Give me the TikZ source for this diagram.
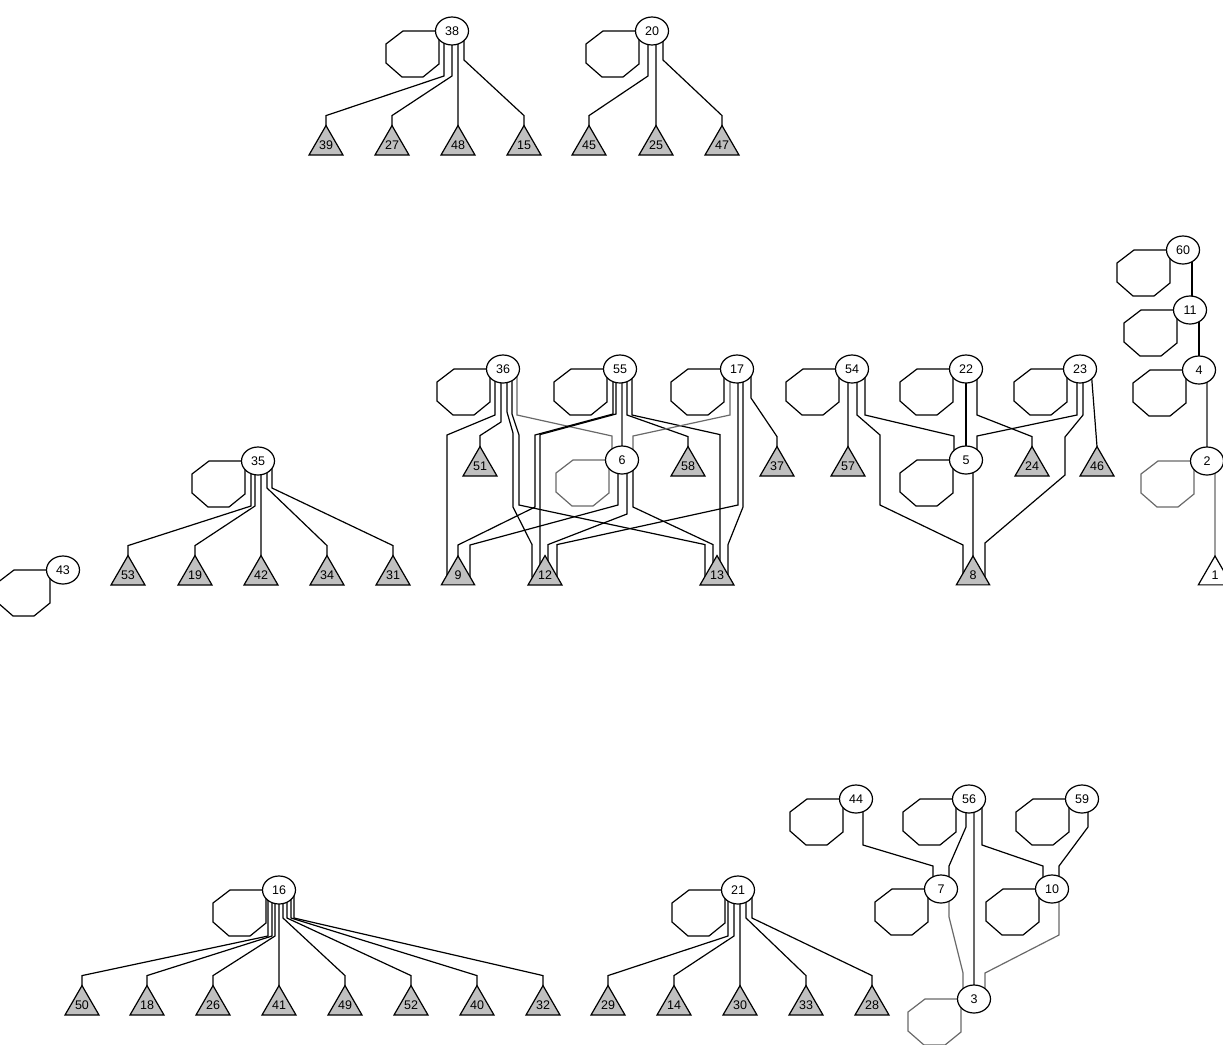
\documentclass[tikz,border=0pt]{standalone}
\usepackage{fontspec}
\setsansfont{Liberation Sans}
\usetikzlibrary{calc,shapes.geometric}
\definecolor{leafgray}{RGB}{192,192,192}
\definecolor{wiregray}{RGB}{105,105,105}
\pgfdeclarelayer{wires}
\pgfsetlayers{wires,main}
\tikzset{
  vtx/.style={ellipse,draw,fill=white,minimum width=33pt,minimum height=28pt,
              inner sep=0pt,outer sep=0pt,font=\sffamily\fontsize{12.5}{13}\selectfont},
  leaf/.style={regular polygon,regular polygon sides=3,draw,fill=leafgray,
               minimum size=38.5pt,inner sep=0pt,outer sep=0pt,
               font=\sffamily\fontsize{12.5}{13}\selectfont},
  faint/.style={draw=wiregray}
}
%% source, x offset, drop, target, x offset, rise above target
\newcommand{\link}[7][]{\draw[#1] ($(#2)+(#3,0)$) -- ++(0,#4)
  -- ($(#5.north)+(#6,-#7)$) -- ($(#5.north)+(#6,22)$);}
%% self loop of a vertex
\newcommand{\octloop}[2][]{\draw[#1] ($(#2)+(-16,0)$) -- ++(-33,0) -- ++(-17,13)
  -- ++(0,19) -- ++(16,14) -- ++(21,0) -- ++(16,-13) -- ++(0,-33);}

\begin{document}
\begin{tikzpicture}[x=1pt,y=-1pt,line width=1.2pt]
  \useasboundingbox (0,0) rectangle (1223,1044);
  %% vertices
  \foreach \n/\x/\y in {38/452/31, 20/652/31, 60/1183/250, 11/1190/310, 4/1199/370,
      36/503/369, 55/620/369, 17/737/369, 54/852/369, 22/966/369, 23/1080/369,
      35/258/461, 6/622/460, 5/966/460, 2/1207/461, 43/63/570,
      44/856/799, 56/969/799, 59/1082/799, 16/279/890, 21/738/890,
      7/941/889, 10/1052/889, 3/974/999}
    \node[vtx] (n\n) at (\x,\y) {\n};
  %% leaves
  \foreach \n/\x in {39/326, 27/392, 48/458, 15/524, 45/589, 25/656, 47/722}
    \node[leaf] (t\n) at (\x,145.25) {\n};
  \foreach \n/\x in {51/480, 58/688, 37/777, 57/848, 24/1032, 46/1097}
    \node[leaf] (t\n) at (\x,466.25) {\n};
  \foreach \n/\x in {53/128, 19/195, 42/261, 34/327, 31/393, 9/458, 12/545, 13/717, 8/973}
    \node[leaf] (t\n) at (\x,575.25) {\n};
  \node[leaf,fill=white] (t1) at (1215,575.25) {1};
  \foreach \n/\x in {50/82, 18/147, 26/213, 41/279, 49/345, 52/411, 40/477, 32/543,
      29/608, 14/674, 30/740, 33/806, 28/872}
    \node[leaf] (t\n) at (\x,1005.25) {\n};

  \begin{pgfonlayer}{wires}
  \begin{scope}[line width=1.2pt,draw=black]
    %% self loops
    \foreach \n in {38,20,60,11,4,36,55,17,54,22,23,35,5,43,44,56,59,16,21,7,10}
      {\octloop{n\n}}
    \foreach \n in {6,2,3}
      {\octloop[faint]{n\n}}
    %% top fans
    \foreach \m/\dx/\dy in {39/-8/45, 27/0/45, 48/6/45, 15/12/29}
      {\link{n38}{\dx}{\dy}{t\m}{0}{10}}
    \foreach \m/\dx/\dy in {45/-4/45, 25/4/45, 47/11/29}
      {\link{n20}{\dx}{\dy}{t\m}{0}{10}}
    %% left fan
    \foreach \m/\dx/\dy in {53/-7/45, 19/-3/45, 42/3/45, 34/9/27, 31/14/27}
      {\link{n35}{\dx}{\dy}{t\m}{0}{10}}
    %% bottom fans
    \foreach \m/\dx/\dy in {50/-11/46, 18/-7/46, 26/-4/46, 41/0/46,
        49/4/28, 52/8/28, 40/12/28, 32/15/28}
      {\link{n16}{\dx}{\dy}{t\m}{0}{10}}
    \foreach \m/\dx/\dy in {29/-10/46, 14/-4/46, 30/2/46, 33/8/28, 28/14/28}
      {\link{n21}{\dx}{\dy}{t\m}{0}{10}}
    %% middle cluster
    \link{n36}{-8}{46}{t9}{-11}{121}
    \link{n36}{-2}{53}{t51}{0}{11}
    \draw ($(n36)+(4,0)$) -- ++(0,43) -- ++(6,21) -- ++(0,74)
      -- ($(t12.north)+(-13,-11)$) -- ($(t12.north)+(-13,22)$);
    \draw ($(n36)+(9,0)$) -- ++(0,45) -- ++(7,21) -- ++(0,70)
      -- ($(t13.north)+(-12,-11)$) -- ($(t13.north)+(-12,22)$);
    \link[faint]{n36}{14}{46}{n6}{-10}{10}
    \draw ($(n55)+(-7,0)$) -- ++(0,45) -- ++(-78,21) -- ++(0,72)
      -- ($(t9.north)+(0,-11)$) -- ($(t9.north)+(0,22)$);
    \link{n55}{-4}{45}{t12}{-5}{121}
    \link[faint]{n55}{2}{45}{n6}{0}{10}
    \link{n55}{7}{46}{t58}{0}{10}
    \link{n55}{12}{46}{t13}{3}{121}
    \link[faint]{n17}{-7}{46}{n6}{11}{10}
    \link{n17}{1}{136}{t12}{12}{11}
    \link{n17}{6}{138}{t13}{11}{11}
    \link{n17}{14}{29}{t37}{0}{10}
    \link{n6}{-4}{45}{t9}{12}{11}
    \link{n6}{5}{54}{t12}{3}{11}
    \link{n6}{11}{47}{t13}{-4}{11}
    %% right cluster
    \link{n54}{-4}{45}{t57}{0}{10}
    \draw ($(n54)+(5,0)$) -- ++(0,46) -- ++(23,20) -- ++(0,70)
      -- ($(t8.north)+(-10,-11)$) -- ($(t8.north)+(-10,22)$);
    \link{n54}{13}{46}{n5}{-12}{10}
    \link{n22}{0}{45}{n5}{0}{10}
    \link{n22}{11}{46}{t24}{0}{10}
    \link{n23}{-3}{46}{n5}{11}{10}
    \draw ($(n23)+(3,0)$) -- ++(0,46) -- ++(-18,22) -- ++(0,38)
      -- ($(t8.north)+(12,-13)$) -- ($(t8.north)+(12,22)$);
    \draw ($(n23)+(11,0)$) -- (t46.north);
    \link{n5}{7}{45}{t8}{0}{11}
    %% chain on the right
    \draw ($(n60)+(9,0)$) -- ($(n11)+(2,0)$);
    \draw ($(n11)+(9,0)$) -- (n4);
    \draw[faint] ($(n4)+(8,0)$) -- (n2);
    \draw[faint] ($(n2)+(8,0)$) -- (t1.north);
    %% bottom right
    \link{n44}{7}{46}{n7}{-8}{9}
    \link{n56}{-3}{28}{n7}{8}{9}
    \draw[faint] ($(n56)+(5,0)$) -- (n3);
    \link{n56}{13}{46}{n10}{-9}{9}
    \link{n59}{6}{28}{n10}{7}{9}
    \link[faint]{n7}{8}{28}{n3}{-11}{12}
    \link[faint]{n10}{7}{46}{n3}{11}{12}
  \end{scope}
  \end{pgfonlayer}
\end{tikzpicture}
\end{document}
